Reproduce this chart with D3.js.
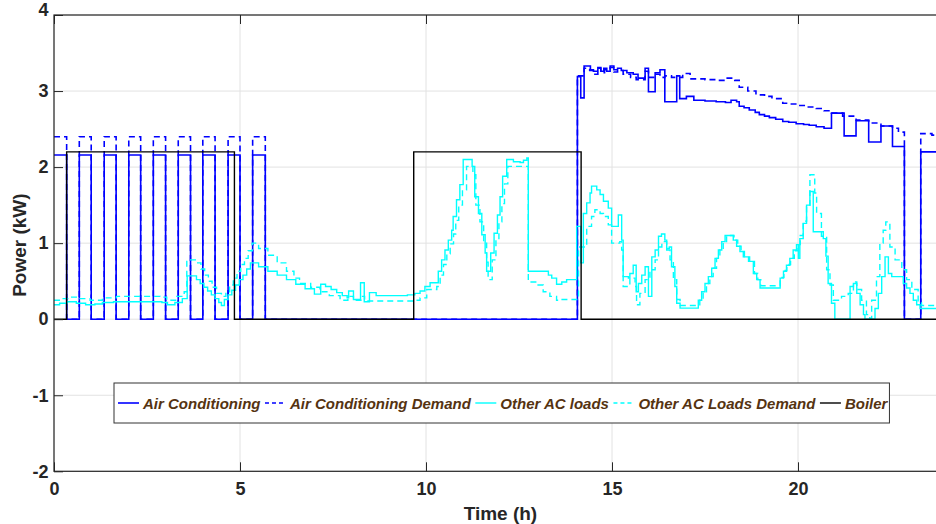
<!DOCTYPE html>
<html><head><meta charset="utf-8">
<script src="https://cdn.jsdelivr.net/npm/d3@7"></script>
<style>body{margin:0;background:#fff}svg{display:block}</style>
</head><body>
<svg id="chart" width="936" height="524"></svg>
<script>
// ---- data (hours, kW) ----
const xTicks = [0, 5, 10, 15, 20];
const yTicks = [-2, -1, 0, 1, 2, 3, 4];
const legendLabels = ['Air Conditioning', 'Air Conditioning Demand', 'Other AC loads', 'Other AC Loads Demand', 'Boiler'];

const acPower = [[0,2.16],[0.34,0],[0.68,2.16],[1.0,0],[1.35,2.16],[1.67,0],[2.01,2.16],[2.33,0],[2.67,2.16],[3.0,0],[3.34,2.16],[3.67,0],[4.0,2.16],[4.33,0],[4.68,2.16],[5.0,0],[5.34,2.16],[5.68,0],
[14.07,3.19],[14.16,2.91],[14.25,3.33],[14.42,3.28],[14.5,3.26],[14.62,3.31],[14.7,3.26],[14.78,3.3],[14.86,3.26],[14.95,3.33],[15.05,3.28],[15.15,3.3],[15.25,3.27],[15.4,3.24],[15.57,3.22],[15.7,3.17],[15.89,3.3],[15.98,2.99],[16.16,3.24],[16.29,3.28],[16.42,2.86],[16.74,3.2],[16.82,2.9],[17.0,2.93],[17.2,2.88],[17.5,2.87],[17.8,2.86],[18.05,2.85],[18.2,2.88],[18.35,2.86],[18.42,2.8],[18.55,2.78],[18.69,2.75],[18.85,2.72],[18.96,2.69],[19.1,2.67],[19.23,2.65],[19.4,2.63],[19.59,2.6],[19.75,2.59],[19.95,2.57],[20.15,2.56],[20.3,2.55],[20.49,2.53],[20.7,2.51],[20.9,2.71],[21.24,2.41],[21.56,2.61],[21.9,2.33],[22.23,2.54],[22.54,2.27],[22.86,0],[23.3,2.2],[24,2.2]];

const acDemand = [[0,2.4],[0.34,0],[0.68,2.4],[1.0,0],[1.35,2.4],[1.67,0],[2.01,2.4],[2.33,0],[2.67,2.4],[3.0,0],[3.34,2.4],[3.67,0],[4.0,2.4],[4.33,0],[4.68,2.4],[5.0,0],[5.34,2.4],[5.68,0],
[14.07,3.2],[14.25,3.3],[14.4,3.27],[14.5,3.22],[14.62,3.3],[14.7,3.24],[14.8,3.28],[14.95,3.31],[15.05,3.25],[15.15,3.27],[15.3,3.22],[15.5,3.18],[15.65,3.15],[15.89,3.26],[15.98,3.18],[16.16,3.22],[16.29,3.18],[16.42,3.2],[16.6,3.18],[16.9,3.23],[17.1,3.16],[17.5,3.15],[17.8,3.14],[18.05,3.17],[18.3,3.14],[18.42,3.05],[18.65,3.0],[18.87,2.95],[19.1,2.93],[19.3,2.9],[19.59,2.84],[19.8,2.83],[20.0,2.81],[20.25,2.79],[20.49,2.77],[20.7,2.74],[20.9,2.71],[21.2,2.67],[21.56,2.62],[21.9,2.58],[22.23,2.54],[22.54,2.51],[22.7,2.46],[22.86,0],[23.3,2.44],[23.6,2.42],[24,2.42]];

const otherLoads = [[0,0.19],[0.15,0.21],[0.35,0.23],[0.6,0.21],[0.85,0.19],[1.1,0.2],[1.3,0.22],[1.6,0.23],[2.9,0.22],[3.05,0.19],[3.25,0.22],[3.45,0.27],[3.58,0.57],[3.83,0.52],[3.93,0.47],[4.03,0.42],[4.13,0.37],[4.23,0.32],[4.33,0.27],[4.43,0.22],[4.5,0.18],[4.58,0.26],[4.68,0.32],[4.78,0.38],[4.88,0.45],[4.98,0.52],[5.08,0.58],[5.18,0.66],[5.28,0.74],[5.5,0.69],[5.75,0.63],[6.0,0.58],[6.25,0.52],[6.5,0.46],[6.75,0.4],[7.0,0.33],[7.17,0.46],[7.3,0.43],[7.45,0.39],[7.6,0.35],[7.75,0.31],[7.88,0.28],[7.92,0.37],[8.05,0.26],[8.24,0.48],[8.34,0.23],[8.48,0.35],[8.66,0.31],[9.5,0.32],[9.7,0.34],[9.84,0.37],[9.97,0.43],[10.11,0.48],[10.33,0.63],[10.42,0.78],[10.51,0.91],[10.6,1.04],[10.69,1.17],[10.73,1.35],[10.82,1.57],[10.91,1.77],[11.0,2.1],[11.24,2.01],[11.31,1.61],[11.41,1.39],[11.5,1.11],[11.59,0.87],[11.63,0.63],[11.74,0.87],[11.83,1.13],[11.92,1.37],[11.99,1.61],[12.06,1.88],[12.17,2.1],[12.35,2.07],[12.53,2.06],[12.62,2.09],[12.71,2.12],[12.75,0.63],[13.29,0.58],[13.38,0.54],[13.51,0.46],[13.65,0.49],[13.78,0.52],[14.05,1.22],[14.16,0.74],[14.23,1.39],[14.32,1.53],[14.41,1.66],[14.45,1.75],[14.59,1.7],[14.68,1.64],[14.77,1.55],[14.9,1.46],[14.99,1.22],[15.17,1.37],[15.26,1.04],[15.3,0.56],[15.44,0.54],[15.48,0.6],[15.57,0.71],[15.65,0.36],[15.71,0.47],[15.8,0.58],[15.89,0.69],[15.98,0.3],[16.07,0.82],[16.16,0.91],[16.25,1.09],[16.33,1.12],[16.42,1.04],[16.47,0.93],[16.54,0.95],[16.6,0.69],[16.69,0.43],[16.74,0.21],[16.83,0.145],[17.32,0.25],[17.41,0.36],[17.5,0.47],[17.59,0.56],[17.68,0.67],[17.77,0.8],[17.86,0.91],[17.95,1.02],[18.04,1.1],[18.26,1.04],[18.35,0.96],[18.44,0.89],[18.53,0.82],[18.67,0.76],[18.8,0.6],[18.89,0.52],[18.98,0.41],[19.52,0.54],[19.61,0.63],[19.69,0.71],[19.78,0.8],[19.87,0.91],[19.96,0.98],[20.01,0.8],[20.05,1.06],[20.14,1.26],[20.23,1.5],[20.32,1.68],[20.41,1.15],[20.68,1.06],[20.75,0.83],[20.81,0.47],[20.9,0.21],[20.99,0],[21.4,0.43],[21.49,0.47],[21.58,0.34],[21.67,0.19],[21.76,0.06],[21.8,0],[22.07,0.14],[22.16,0.34],[22.25,0.56],[22.34,0.82],[22.43,0.6],[22.52,0.56],[22.83,0.47],[22.92,0.41],[23.01,0.34],[23.1,0.25],[23.19,0.19],[23.28,0.14],[24,0.14]];

const otherDemand = [[0,0.25],[0.2,0.27],[0.43,0.29],[0.7,0.27],[0.97,0.25],[1.3,0.28],[1.68,0.3],[2.85,0.29],[3.03,0.25],[3.3,0.3],[3.5,0.36],[3.57,0.78],[3.83,0.74],[3.95,0.66],[4.05,0.58],[4.15,0.5],[4.25,0.42],[4.37,0.34],[4.5,0.3],[4.62,0.36],[4.72,0.45],[4.82,0.54],[4.92,0.63],[5.02,0.72],[5.12,0.8],[5.22,0.9],[5.33,1.0],[5.5,0.93],[5.75,0.84],[6.0,0.74],[6.25,0.63],[6.45,0.54],[6.6,0.47],[6.9,0.42],[7.15,0.36],[7.4,0.31],[7.69,0.25],[7.9,0.3],[8.05,0.25],[8.25,0.3],[8.35,0.24],[9.66,0.25],[9.84,0.28],[10.02,0.39],[10.29,0.43],[10.38,0.58],[10.47,0.72],[10.56,0.86],[10.65,0.99],[10.74,1.12],[10.8,1.3],[10.88,1.5],[10.98,1.7],[11.09,2.01],[11.26,1.9],[11.34,1.5],[11.45,1.28],[11.55,1.0],[11.63,0.75],[11.67,0.52],[11.78,0.78],[11.88,1.05],[11.96,1.28],[12.04,1.52],[12.11,1.78],[12.2,2.01],[12.75,0.49],[12.97,0.45],[13.15,0.36],[13.33,0.3],[13.51,0.25],[13.6,0.26],[14.1,0.95],[14.32,1.22],[14.45,1.35],[14.54,1.44],[14.68,1.39],[14.77,1.35],[14.9,1.24],[14.99,1.0],[15.21,1.02],[15.26,0.91],[15.3,0.43],[15.48,0.54],[15.62,0.43],[15.66,0.19],[15.75,0.34],[15.89,0.52],[16.02,0.65],[16.16,0.78],[16.25,0.95],[16.34,1.02],[16.47,0.91],[16.56,0.78],[16.65,0.52],[16.74,0.26],[16.83,0.18],[17.36,0.25],[17.45,0.36],[17.54,0.47],[17.63,0.56],[17.72,0.67],[17.81,0.8],[17.9,0.91],[17.99,1.02],[18.08,1.1],[18.28,1.04],[18.38,0.96],[18.47,0.89],[18.56,0.82],[18.7,0.76],[18.83,0.6],[18.92,0.52],[19.0,0.44],[19.52,0.55],[19.62,0.64],[19.7,0.72],[19.8,0.8],[19.9,0.9],[20.0,0.98],[20.06,1.1],[20.14,1.29],[20.23,1.48],[20.32,1.9],[20.45,1.66],[20.5,1.39],[20.63,1.09],[20.77,0.65],[20.86,0.45],[20.95,0.25],[21.17,0.3],[21.35,0.34],[21.49,0.49],[21.58,0.39],[21.71,0.25],[21.84,0.06],[21.93,0.01],[21.98,0.25],[22.11,0.56],[22.2,1.0],[22.29,1.17],[22.36,1.28],[22.47,0.95],[22.61,0.78],[22.79,0.65],[22.92,0.52],[23.06,0.39],[23.23,0.23],[23.32,0.18],[24,0.18]];

const boiler = [[0,0],[0.34,2.2],[4.85,0],[9.67,2.2],[14.17,0],[24,0]];

// ---- drawing ----
const W = 936, H = 524;
const svg = d3.select('#chart');
const L = 54, T = 15, R = 946.8, B = 471.3;
const x = d3.scaleLinear().domain([0, 24]).range([L, R]);
const y = d3.scaleLinear().domain([-2, 4]).range([B, T]);
const FONT = '"Liberation Sans", Arial, Helvetica, sans-serif';
const fmt = d => String(d);

svg.append('rect').attr('width', W).attr('height', H).attr('fill', '#fff');

svg.append('defs').append('clipPath').attr('id', 'clip')
  .append('rect').attr('x', L).attr('y', T).attr('width', R - L).attr('height', B - T);

// grid
const grid = svg.append('g').attr('stroke', '#e2e2e2').attr('stroke-width', 1);
grid.selectAll('.gx').data(xTicks).join('line')
  .attr('x1', d => x(d)).attr('x2', d => x(d)).attr('y1', T).attr('y2', B);
grid.selectAll('.gy').data(yTicks).join('line')
  .attr('x1', L).attr('x2', R).attr('y1', d => y(d)).attr('y2', d => y(d));

// series
const line = d3.line().x(d => x(d[0])).y(d => y(d[1])).curve(d3.curveStepAfter);
const series = [
  {data: acPower,    color: '#0000ff', dash: null,  w: 1.6},
  {data: acDemand,   color: '#0000ff', dash: '6,4', w: 1.6},
  {data: otherLoads, color: '#00ffff', dash: null,  w: 1.4},
  {data: otherDemand,color: '#00ffff', dash: '6,4', w: 1.4},
  {data: boiler,     color: '#000000', dash: null,  w: 1.4}
];
const gLines = svg.append('g').attr('clip-path', 'url(#clip)');
series.forEach(s => {
  gLines.append('path').datum(s.data).attr('d', line)
    .attr('fill', 'none').attr('stroke', s.color).attr('stroke-width', s.w)
    .attr('stroke-dasharray', s.dash).attr('stroke-linejoin', 'miter');
});

// axes
const axColor = '#262626';
const xAxis = svg.append('g').attr('transform', `translate(0,${B})`)
  .call(d3.axisBottom(x).tickValues(xTicks).tickSize(-9).tickPadding(11).tickFormat(fmt));
const xTop = svg.append('g').attr('transform', `translate(0,${T})`)
  .call(d3.axisTop(x).tickValues(xTicks).tickSize(-9).tickFormat(''));
const yAxis = svg.append('g').attr('transform', `translate(${L},0)`)
  .call(d3.axisLeft(y).tickValues(yTicks).tickSize(-9).tickPadding(5.5).tickFormat(fmt));
const yRight = svg.append('g').attr('transform', `translate(${R},0)`)
  .call(d3.axisRight(y).tickValues(yTicks).tickSize(-9).tickFormat(''));
[xAxis, xTop, yAxis, yRight].forEach(a => {
  a.select('.domain').remove();
  a.selectAll('line').attr('stroke', axColor).attr('stroke-width', 1);
  a.selectAll('text').attr('fill', axColor).attr('font-family', FONT)
    .attr('font-size', 18).attr('font-weight', 'bold');
});
// top label sits inside the figure
yAxis.selectAll('.tick').filter(d => d === 4).select('text').attr('dy', '0em');

svg.append('rect').attr('x', L).attr('y', T).attr('width', R - L).attr('height', B - T)
  .attr('fill', 'none').attr('stroke', axColor).attr('stroke-width', 1.2);

// axis labels
svg.append('text').attr('x', (L + R) / 2).attr('y', 519.5).attr('text-anchor', 'middle')
  .attr('font-family', FONT).attr('font-size', 19).attr('font-weight', 'bold').attr('fill', axColor)
  .text('Time (h)');
svg.append('text').attr('transform', `translate(26,${(T + B) / 2 + 2}) rotate(-90)`).attr('text-anchor', 'middle')
  .attr('font-family', FONT).attr('font-size', 19).attr('font-weight', 'bold').attr('fill', axColor)
  .text('Power (kW)');

// legend
const lg = svg.append('g');
const box = lg.append('rect').attr('x', 114).attr('y', 383).attr('height', 40)
  .attr('fill', '#fff').attr('stroke', '#333').attr('stroke-width', 1);
let cx = 118;
legendLabels.forEach((lab, i) => {
  const s = series[i];
  lg.append('line').attr('x1', cx).attr('x2', cx + 21).attr('y1', 403).attr('y2', 403)
    .attr('stroke', s.color).attr('stroke-width', s.w).attr('stroke-dasharray', s.dash ? '4,3' : null);
  const t = lg.append('text').attr('x', cx + 25).attr('y', 409)
    .attr('font-family', FONT).attr('font-size', 15).attr('font-weight', 'bold')
    .attr('font-style', 'italic').attr('fill', '#553311').text(lab);
  cx = cx + 25 + t.node().getComputedTextLength() + 4.5;
});
box.attr('width', cx - 2.5 - 114);
</script>
</body></html>
